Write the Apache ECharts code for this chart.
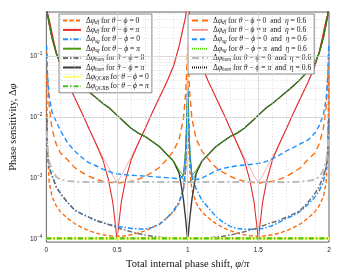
<!DOCTYPE html>
<html><head><meta charset="utf-8">
<script src="https://cdn.jsdelivr.net/npm/echarts@6/dist/echarts.min.js"></script>
<style>html,body{margin:0;padding:0;background:#fff}#c{width:345px;height:275px}</style>
</head><body><div id="c"></div>
<script>
// x grid (phi/pi)
const xLeft = [0.002,0.008,0.02,0.04,0.07,0.1,0.15,0.2,0.25,0.3,0.35,0.4,0.44,0.47,0.5,0.53,0.56,0.6,0.65,0.7,0.75,0.8,0.85,0.9,0.94,0.97,0.985,0.995,1.0];
const xRight = [1.005,1.015,1.03,1.06,1.1,1.15,1.2,1.25,1.3,1.35,1.4,1.44,1.47,1.5,1.53,1.56,1.6,1.65,1.7,1.75,1.8,1.85,1.9,1.93,1.96,1.98,1.992,1.998];

const dfZero = [0.05,3e-3,8.5e-4,5e-4,3.5e-4,2.8e-4,2.2e-4,1.8e-4,1.55e-4,1.38e-4,1.26e-4,1.18e-4,1.14e-4,1.12e-4,1.11e-4,1.12e-4,1.14e-4,1.18e-4,1.26e-4,1.38e-4,1.55e-4,1.8e-4,2.2e-4,2.8e-4,3.9e-4,6.5e-4,1.3e-3,6e-3,0.13,
  6e-3,1.3e-3,6.5e-4,3.9e-4,2.8e-4,2.2e-4,1.8e-4,1.55e-4,1.38e-4,1.26e-4,1.18e-4,1.14e-4,1.12e-4,1.11e-4,1.12e-4,1.14e-4,1.18e-4,1.26e-4,1.38e-4,1.55e-4,1.8e-4,2.2e-4,2.8e-4,3.5e-4,5e-4,8.5e-4,3e-3,0.05];
const dfPi = [1.5,0.5,0.4,0.24,0.116,0.069,0.0367,0.021,0.012,0.0066,0.0037,0.002,0.00093,0.0004,0.0001,0.0004,0.00093,0.002,0.0037,0.0066,0.012,0.021,0.0367,0.069,0.148,0.31,0.44,0.8,1.5,
  0.8,0.44,0.31,0.148,0.069,0.0367,0.021,0.012,0.0066,0.0037,0.002,0.00093,0.0004,0.0001,0.0004,0.00093,0.002,0.0037,0.0066,0.012,0.021,0.0367,0.069,0.116,0.24,0.4,0.5,1.5];
const sgZero = [0.01,0.0026,0.0015,0.0011,0.00072,0.00056,0.0004,0.0003,0.00026,0.00023,0.0002,0.000185,0.000174,0.000168,0.000162,0.000159,0.000156,0.00015,0.000147,0.000147,0.000156,0.000174,0.000218,0.000294,0.00041,0.00067,0.0014,0.008,0.029,
  0.014,0.0022,0.00104,0.00067,0.00044,0.00032,0.000235,0.00019,0.000162,0.00015,0.000145,0.000145,0.000145,0.000147,0.00015,0.000155,0.000168,0.00019,0.00022,0.000245,0.00029,0.00037,0.00049,0.00062,0.00086,0.0015,0.0032,0.01];
const sgPi = [0.7,0.48,0.34,0.2,0.112,0.077,0.057,0.0425,0.033,0.0263,0.021,0.0168,0.0145,0.0125,0.0108,0.0093,0.008,0.0066,0.0055,0.0048,0.004,0.0033,0.0025,0.0019,0.00134,0.0011,0.003,0.012,0.03,
  0.012,0.003,0.0011,0.00134,0.0019,0.0025,0.0033,0.004,0.0048,0.0055,0.0066,0.008,0.0093,0.0108,0.0125,0.0145,0.0168,0.021,0.0263,0.033,0.0425,0.057,0.077,0.112,0.2,0.34,0.48,0.7];
const homZero = [0.01,0.0026,0.0015,0.0011,0.00072,0.00056,0.0004,0.0003,0.00026,0.00023,0.000205,0.000188,0.000175,0.000165,0.000155,0.000147,0.00014,0.000132,0.000124,0.000117,0.000112,0.000108,0.000106,0.000104,0.000103,0.000103,0.000103,0.000103,0.000103,
  0.000103,0.000103,0.000103,0.000103,0.000104,0.000106,0.000108,0.000112,0.000117,0.000124,0.000132,0.00014,0.000147,0.000155,0.000165,0.000175,0.000188,0.000205,0.00023,0.00026,0.0003,0.0004,0.00056,0.00072,0.0011,0.0015,0.0026,0.01];
const homPi = [0.7,0.48,0.34,0.2,0.112,0.077,0.057,0.0425,0.033,0.0263,0.021,0.0168,0.0145,0.0125,0.0108,0.0093,0.008,0.0066,0.0055,0.0048,0.004,0.0033,0.0025,0.0019,0.0012,0.00045,0.00022,0.000125,0.0001,
  0.000125,0.00022,0.00045,0.0012,0.0019,0.0025,0.0033,0.004,0.0048,0.0055,0.0066,0.008,0.0093,0.0108,0.0125,0.0145,0.0168,0.021,0.0263,0.033,0.0425,0.057,0.077,0.112,0.2,0.34,0.48,0.7];
const qcrbX = [0,0.5,1,1.5,2];
const qcrbZero = [1.03e-4,1.03e-4,1.03e-4,1.03e-4,1.03e-4];
const qcrbPi = [1.03e-4,1.03e-4,1.03e-4,1.03e-4,1.03e-4];
const dfZeroEta = [0.12,0.045,0.015,0.0065,0.0036,0.0026,0.002,0.0015,0.00125,0.00108,0.00096,0.00089,0.00086,0.00085,0.00083,0.00085,0.00086,0.00089,0.00096,0.00108,0.00125,0.0015,0.002,0.0028,0.0044,0.0095,0.024,0.07,0.15,
  0.07,0.024,0.0095,0.0044,0.0028,0.002,0.0015,0.00125,0.00108,0.00096,0.00089,0.00086,0.00085,0.00083,0.00085,0.00086,0.00089,0.00096,0.00108,0.00125,0.0015,0.002,0.0026,0.0036,0.0065,0.015,0.045,0.12];
const dfPiEta = [1.5,0.5,0.4,0.24,0.116,0.069,0.0367,0.021,0.012,0.0066,0.0038,0.0022,0.0015,0.0011,0.00084,0.0011,0.0015,0.0022,0.0038,0.0066,0.012,0.021,0.0367,0.069,0.148,0.31,0.44,0.8,1.5,
  0.8,0.44,0.31,0.148,0.069,0.0367,0.021,0.012,0.0066,0.0038,0.0022,0.0015,0.0011,0.00084,0.0011,0.0015,0.0022,0.0038,0.0066,0.012,0.021,0.0367,0.069,0.116,0.24,0.4,0.5,1.5];
const sgZeroEta = [0.15,0.05,0.022,0.012,0.0085,0.006,0.0038,0.0028,0.0022,0.0018,0.0016,0.0014,0.0013,0.00122,0.00118,0.00116,0.00114,0.00112,0.0011,0.00108,0.00106,0.00104,0.00102,0.001,0.00098,0.0011,0.0025,0.01,0.03,
  0.01,0.0025,0.0011,0.00095,0.001,0.00115,0.00132,0.00145,0.00152,0.0016,0.00165,0.00168,0.0017,0.00175,0.0018,0.0019,0.0021,0.0024,0.0028,0.0032,0.0037,0.0042,0.0055,0.0072,0.011,0.02,0.05,0.15];
const sgPiEta = [0.7,0.48,0.34,0.2,0.112,0.077,0.057,0.0425,0.033,0.0263,0.021,0.0168,0.0145,0.0125,0.0108,0.0093,0.008,0.0066,0.0055,0.0048,0.004,0.0033,0.0025,0.0019,0.0012,0.00095,0.00088,0.00085,0.00084,
  0.00085,0.00088,0.00095,0.0012,0.0019,0.0025,0.0033,0.004,0.0048,0.0055,0.0066,0.008,0.0093,0.0108,0.0125,0.0145,0.0168,0.021,0.0263,0.033,0.0425,0.057,0.077,0.112,0.2,0.34,0.48,0.7];
const homZeroEta = [0.006,0.003,0.0019,0.00135,0.00105,0.00095,0.0009,0.00088,0.00087,0.00087,0.00087,0.00087,0.00087,0.00087,0.00087,0.00087,0.00087,0.00087,0.00087,0.00087,0.00087,0.00087,0.00087,0.00087,0.00087,0.00087,0.00087,0.00087,0.00087,
  0.00087,0.00087,0.00087,0.00087,0.00087,0.00087,0.00087,0.00087,0.00087,0.00087,0.00087,0.00087,0.00087,0.00087,0.00087,0.00087,0.00087,0.00087,0.00087,0.00087,0.00088,0.0009,0.00095,0.00105,0.00135,0.0019,0.003,0.006];
const homPiEta = [0.7,0.48,0.34,0.2,0.112,0.077,0.057,0.0425,0.033,0.0263,0.021,0.0168,0.0145,0.0125,0.0108,0.0093,0.008,0.0066,0.0055,0.0048,0.004,0.0033,0.0025,0.0019,0.0012,0.00095,0.00088,0.00085,0.00084,
  0.00085,0.00088,0.00095,0.0012,0.0019,0.0025,0.0033,0.004,0.0048,0.0055,0.0066,0.008,0.0093,0.0108,0.0125,0.0145,0.0168,0.021,0.0263,0.033,0.0425,0.057,0.077,0.112,0.2,0.34,0.48,0.7];

const xTickLabels = ['0','0.5','1','1.5','2'];
const xMajorGrid = [0.5,1,1.5];
const yMajorGrid = [1e-4,1e-3,1e-2,1e-1];

const X = xLeft.concat(xRight);
function pts(ys){ return X.map((x,i)=>[x, ys[i]]); }

const SERIF = 'Liberation Serif';
const AND = '{t|\u2002and\u2002}';
const labels = {
  df0:'{g|Δ}{i|φ}{s|df}{t| for }{i|θ}{t| − }{i|ϕ}{t| = 0}',
  dfPi:'{g|Δ}{i|φ}{s|df}{t| for }{i|θ}{t| − }{i|ϕ}{t| = }{i|π}',
  sg0:'{g|Δ}{i|φ}{s|sg}{t| for }{i|θ}{t| − }{i|ϕ}{t| = 0}',
  sgPi:'{g|Δ}{i|φ}{s|sg}{t| for }{i|θ}{t| − }{i|ϕ}{t| = }{i|π}',
  hom0:'{g|Δ}{i|φ}{s|hom}{t| for }{i|θ}{t| − }{i|ϕ}{t| = 0}',
  homPi:'{g|Δ}{i|φ}{s|hom}{t| for }{i|θ}{t| − }{i|ϕ}{t| = }{i|π}',
  qcrb0:'{g|Δ}{i|φ}{s|QCRB}{t| for }{i|θ}{t| − }{i|ϕ}{t| = 0}',
  qcrbPi:'{g|Δ}{i|φ}{s|QCRB}{t| for }{i|θ}{t| − }{i|ϕ}{t| = }{i|π}',
  df0e:'{g|Δ}{i|φ}{s|df}{t| for }{i|θ}{t| − }{i|ϕ}{t| = 0}'+AND+'{i|η}{t| = 0.6}',
  dfPie:'{g|Δ}{i|φ}{s|df}{t| for }{i|θ}{t| − }{i|ϕ}{t| = }{i|π}'+AND+'{i|η}{t| = 0.6}',
  sg0e:'{g|Δ}{i|φ}{s|sg}{t| for }{i|θ}{t| − }{i|ϕ}{t| = 0}'+AND+'{i|η}{t| = 0.6}',
  sgPie:'{g|Δ}{i|φ}{s|sg}{t| for }{i|θ}{t| − }{i|ϕ}{t| = }{i|π}'+AND+'{i|η}{t| = 0.6}',
  hom0e:'{g|Δ}{i|φ}{s|hom}{t| for }{i|θ}{t| − }{i|ϕ}{t| = 0}'+AND+'{i|η}{t| = 0.6}',
  homPie:'{g|Δ}{i|φ}{s|hom}{t| for }{i|θ}{t| − }{i|ϕ}{t| = }{i|π}'+AND+'{i|η}{t| = 0.6}'
};
const FS = 7.6;
const rich = {
  t:{fontFamily:SERIF,fontSize:FS,lineHeight:9,color:'#111'},
  g:{fontFamily:SERIF,fontSize:FS,lineHeight:9,color:'#111'},
  i:{fontFamily:SERIF,fontSize:FS,lineHeight:9,fontStyle:'italic',color:'#111'},
  s:{fontFamily:SERIF,fontSize:5.2,lineHeight:4,fontStyle:'italic',verticalAlign:'bottom',color:'#111'}
};

function mk(name, data, color, width, type, z){
  return {name:name, type:'line', data:data, showSymbol:false, symbol:'none', symbolSize:0, smooth:false, z:(z===undefined?3:z),
    lineStyle:{color:color, width:width, type:type}, itemStyle:{color:color, opacity:0}, emphasis:{disabled:true}, silent:true};
}

const gridLines = [];
for (let k=1;k<20;k++){ const v=k/10; if (k%5!==0) gridLines.push({xAxis:v, lineStyle:{color:'#c4c4c4',width:0.6,type:[1,2]}}); }
xMajorGrid.forEach(v=>gridLines.push({xAxis:v, lineStyle:{color:'#d2d2d2',width:0.8,type:'solid'}}));
for (let e=-5;e<=-1;e++){ for (let m=2;m<=9;m++){ const v=m*Math.pow(10,e); if (v>8.95e-5 && v<0.53) gridLines.push({yAxis:v, lineStyle:{color:'#c4c4c4',width:0.6,type:[1,2]}}); } }
yMajorGrid.forEach(v=>gridLines.push({yAxis:v, lineStyle:{color:'#d2d2d2',width:0.8,type:'solid'}}));

const DD = [5,2,1.5,2];
const series = [
  {type:'line', data:[], z:1, silent:true, markLine:{silent:true, symbol:['none','none'], label:{show:false}, animation:false, data:gridLines}},
  mk('dfPie', pts(dfPiEta), '#f39a9a', 0.8, 'solid', 2),
  mk('df0', pts(dfZero), '#ff6a0a', 1.4, [4,2.5]),
  mk('dfPi', pts(dfPi), '#e52b2b', 1.1, 'solid'),
  mk('sg0', pts(sgZero), '#1e90ff', 1.5, DD),
  mk('homPi', pts(homPi), '#3a3a3a', 1.4, 'solid'),
  mk('sgPi', pts(sgPi), '#4a9a0a', 1.0, 'solid'),
  mk('hom0', pts(homZero), '#6e6e6e', 1.5, DD),
  mk('qcrb0', qcrbX.map((x,i)=>[x,qcrbZero[i]]), '#ffff70', 2.6, 'solid'),
  mk('qcrbPi', qcrbX.map((x,i)=>[x,qcrbPi[i]]), '#46c21e', 2.2, DD),
  mk('df0e', pts(dfZeroEta), '#ff6a0a', 1.4, [6,4]),
  mk('sg0e', pts(sgZeroEta), '#1e90ff', 1.4, [5,3]),
  mk('sgPie', pts(sgPiEta), '#55dd11', 1.0, [1,1]),
  mk('hom0e', pts(homZeroEta), '#bdbdbd', 2.0, [7,3,2,3]),
  mk('homPie', pts(homPiEta), '#111111', 0.7, [1,1])
];

const legendCommon = {orient:'vertical', itemGap:0.4, padding:[2,3,2,3], backgroundColor:'#fff', borderColor:'#6a6a6a', borderWidth:0.8, borderRadius:0,
  selectedMode:false, itemStyle:{opacity:0, borderWidth:0}, formatter:n=>labels[n], textStyle:{fontFamily:SERIF,fontSize:FS,lineHeight:9,color:'#111',rich:rich}};

const chart = echarts.init(document.getElementById('c'), null, {renderer:'canvas'});
chart.setOption({
  animation:false,
  backgroundColor:'#fff',
  grid:{left:32,right:16,top:12,bottom:29,show:true,borderColor:'#3a3a3a',borderWidth:0.8,backgroundColor:'transparent'},
  legend:[
    Object.assign({}, legendCommon, {left:59, top:14, itemWidth:18, itemHeight:7, data:['df0','dfPi','sg0','sgPi','hom0','homPi','qcrb0','qcrbPi']}),
    Object.assign({}, legendCommon, {left:188, top:14, itemWidth:16, itemHeight:7, data:['df0e','dfPie','sg0e','sgPie','hom0e','homPie']})
  ],
  xAxis:{type:'value', min:0, max:2, interval:0.5,
    axisLine:{show:false}, axisTick:{show:false}, splitLine:{show:false},
    axisLabel:{fontFamily:'Liberation Sans', fontSize:6.5, color:'#222', margin:5, formatter:v=>xTickLabels[Math.round(v*2)]},
    name:'Total internal phase shift, {i|φ}/{i|π}', nameLocation:'middle', nameGap:13,
    nameTextStyle:{fontFamily:SERIF, fontSize:10.5, color:'#111', rich:{i:{fontFamily:SERIF,fontSize:10.5,fontStyle:'italic',color:'#111'}}}},
  yAxis:{type:'log', logBase:10, min:8.95e-5, max:0.532,
    axisLine:{show:false}, axisTick:{show:false}, splitLine:{show:false},
    axisLabel:{margin:4, formatter:function(v){ const e=Math.log10(v); const r=Math.round(e); if (Math.abs(e-r)>1e-6) return ''; return '{b|10}{p|−'+(-r)+'}'; },
      rich:{b:{fontFamily:'Liberation Sans',fontSize:6.5,lineHeight:10,color:'#222'}, p:{fontFamily:'Liberation Sans',fontSize:4.6,lineHeight:5,verticalAlign:'top',color:'#222'}}},
    name:'Phase sensitivity, Δ{i|φ}', nameLocation:'middle', nameGap:23, nameRotate:90,
    nameTextStyle:{fontFamily:SERIF, fontSize:10.5, color:'#111', rich:{i:{fontFamily:SERIF,fontSize:10.5,fontStyle:'italic',color:'#111'}}}},
  series:series
});
</script></body></html>
